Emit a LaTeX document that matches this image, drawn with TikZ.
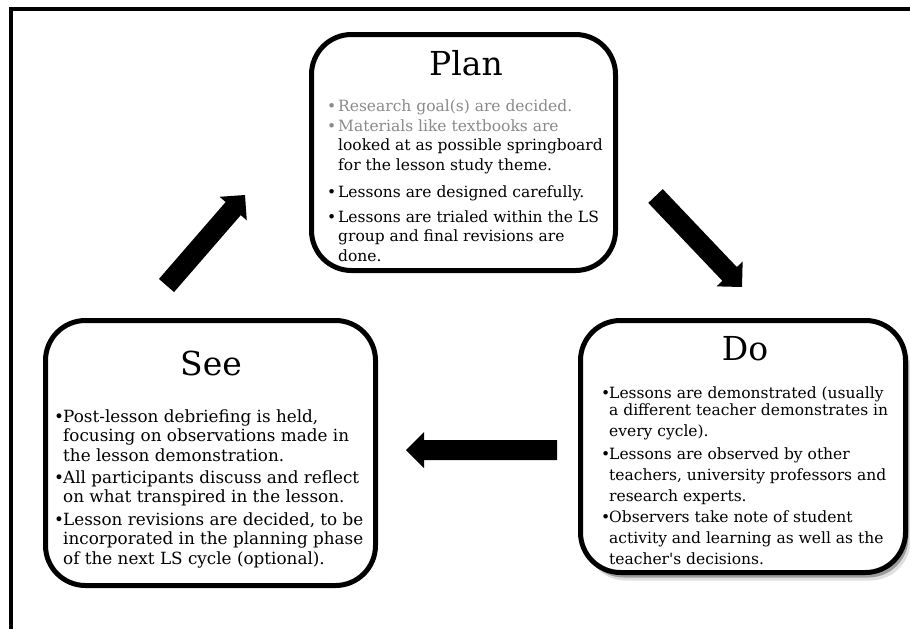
\documentclass[tikz,border=0pt]{standalone}
\usepackage{fontspec}
\setmainfont{DejaVu Serif}
\usetikzlibrary{calc,shadows}
\definecolor{txtgray}{HTML}{8A8A8A}
\newcommand{\itemlines}[1]{\begin{tabular}[t]{@{}l@{}}#1\end{tabular}}
\newcommand{\blockarrow}[3]{%
  \path ($(#2)!18pt!(#1)$) coordinate (#3b);
  \fill ($(#1)!10pt!90:(#2)$) -- ($(#3b)!10pt!90:(#2)$) -- ($(#3b)!18pt!90:(#2)$) -- (#2)
     -- ($(#3b)!18pt!-90:(#2)$) -- ($(#3b)!10pt!-90:(#2)$) -- ($(#1)!10pt!-90:(#2)$) -- cycle;}
\begin{document}
\begin{tikzpicture}[x=1pt,y=-1pt,
  phase/.style={draw=black, line width=5pt, rounded corners=40pt, fill=white, inner sep=0pt},
  doshadow/.style={phase, drop shadow={shadow xshift=3pt, shadow yshift=-5pt, opacity=0.3, fill=black},
                   drop shadow={shadow xshift=5pt, shadow yshift=-8pt, opacity=0.12, fill=black}},
  ttl/.style={font=\fontsize{33}{39}\selectfont, anchor=base, inner sep=0pt},
  itmP/.style={anchor=base west, inner sep=0pt, font=\fontsize{15.5}{19.5}\selectfont},
  itmS/.style={anchor=base west, inner sep=0pt, font=\fontsize{16.8}{19.5}\selectfont},
  itmD/.style={anchor=base west, inner sep=0pt, font=\fontsize{15.5}{21}\selectfont}
  ]
\useasboundingbox (0,0) rectangle (910,629);
\fill[white] (0,0) rectangle (910,629);
% frame
\draw[line width=4pt, line join=miter] (11,629) -- (11,9) -- (910,9);

% boxes
\node[phase, minimum width=304pt, minimum height=236pt] (plan) at (463.5,152.5) {};
\node[phase, minimum width=330pt, minimum height=265pt] (see) at (210.5,453) {};
\node[doshadow, minimum width=325pt, minimum height=252pt] (do) at (743,446.5) {};

% titles
\node[ttl] (planT) at (466,75) {Plan};
\node[ttl] (seeT) at (211,375) {See};
\node[ttl] (doT) at (745,360) {Do};

% Plan items
\node[itmP, text=txtgray] (p1) at (327,111) {\itemlines{\makebox[11pt][l]{•}Research goal(s) are decided.}};
\node[itmP] (p2) at (327,131) {\itemlines{\textcolor{txtgray}{\makebox[11pt][l]{•}Materials like textbooks are}\\
  \hspace*{11pt}looked at as possible springboard\\
  \hspace*{11pt}for the lesson study theme.}};
\node[itmP] (p3) at (327,197) {\itemlines{\makebox[11pt][l]{•}Lessons are designed carefully.}};
\node[itmP] (p4) at (327,222) {\itemlines{\makebox[11pt][l]{•}Lessons are trialed within the LS\\
  \hspace*{11pt}group and final revisions are\\
  \hspace*{11pt}done.}};

% See items
\node[itmS] (s1) at (54,422) {\itemlines{\makebox[9pt][l]{•}Post-lesson debriefing is held,\\
  \hspace*{9pt}focusing on observations made in\\
  \hspace*{9pt}the lesson demonstration.}};
\node[itmS] (s2) at (54,483) {\itemlines{\makebox[9pt][l]{•}All participants discuss and reflect\\
  \hspace*{9pt}on what transpired in the lesson.}};
\node[itmS] (s3) at (54,525) {\itemlines{\makebox[9pt][l]{•}Lesson revisions are decided, to be\\
  \hspace*{9pt}incorporated in the planning phase\\
  \hspace*{9pt}of the next LS cycle (optional).}};

% Do items
\node[itmD] (d1) at (601,398) {\itemlines{\makebox[8pt][l]{•}Lessons are demonstrated (usually\\[-4pt]
  \hspace*{8pt}a different teacher demonstrates in\\
  \hspace*{8pt}every cycle).}};
\node[itmD] (d2) at (601,459) {\itemlines{\makebox[8pt][l]{•}Lessons are observed by other\\
  \hspace*{8pt}teachers, university professors and\\
  \hspace*{8pt}research experts.}};
\node[itmD] (d3) at (601,522) {\itemlines{\makebox[8pt][l]{•}Observers take note of student\\
  \hspace*{8pt}activity and learning as well as the\\
  \hspace*{8pt}teacher\textquotesingle s decisions.}};

% block arrows
\coordinate (a1t) at (655.5,196);
\coordinate (a1p) at (742,287);
\coordinate (a2t) at (557,450);
\coordinate (a2p) at (406,450);
\coordinate (a3t) at (166.5,285.5);
\coordinate (a3p) at (245,195);
\blockarrow{a1t}{a1p}{a1}
\blockarrow{a2t}{a2p}{a2}
\blockarrow{a3t}{a3p}{a3}
\end{tikzpicture}
\end{document}
